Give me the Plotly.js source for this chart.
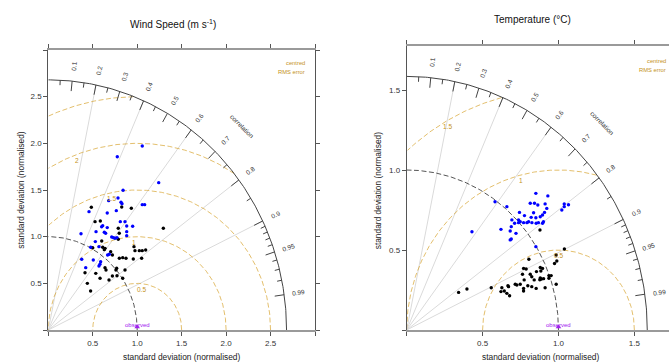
<!DOCTYPE html>
<html><head><meta charset="utf-8">
<script src="https://cdn.plot.ly/plotly-3.0.1.min.js"></script>
<style>html,body{margin:0;padding:0;overflow:hidden;background:#fff}#chart{width:690px;height:363px}</style>
</head><body><div id="chart"></div>
<script>
// ---- data (normalised sd components: x = sd*cor, y = sd*sqrt(1-cor^2)) ----
const windBlueX = [1.057,0.776,1.242,0.841,0.784,0.679,0.818,0.829,1.057,1.084,0.458,0.663,0.765,0.368,0.537,0.612,0.600,0.630,0.645,0.663,0.810,0.863,0.882,0.882,0.882,0.949,0.529,0.713,0.732,0.750,0.772,0.477,0.570,0.686,0.667,0.376,0.506,0.589,0.581,0.570,0.421];
const windBlueY = [1.972,1.857,1.579,1.497,1.415,1.386,1.368,1.354,1.343,1.343,1.268,1.254,1.279,1.032,1.054,1.118,1.107,1.047,1.036,1.097,1.161,1.161,1.115,1.054,1.011,1.111,0.947,0.997,0.990,0.983,0.990,0.886,0.893,0.811,0.804,0.758,0.750,0.732,0.704,0.686,0.668];
const windBlackX = [0.484,0.826,0.934,0.526,0.585,0.787,0.798,1.294,0.601,0.787,0.964,0.975,1.024,1.057,1.095,0.612,0.638,0.630,0.499,0.702,0.721,0.799,0.837,0.874,0.956,1.050,0.638,0.649,0.769,0.761,0.863,0.413,0.534,0.582,0.683,0.721,0.773,0.837,0.439,0.476];
const windBlackY = [1.315,1.318,1.304,1.161,1.168,1.090,1.036,1.090,0.954,0.972,0.893,0.850,0.850,0.850,0.857,0.886,0.875,0.861,0.882,0.839,0.804,0.768,0.775,0.768,0.761,0.768,0.668,0.643,0.661,0.643,0.643,0.614,0.607,0.554,0.536,0.579,0.582,0.554,0.500,0.418];
const tempBlueX = [0.851,0.930,0.814,0.842,0.864,0.912,0.582,0.660,1.038,1.038,1.066,1.022,0.923,0.743,0.836,0.908,0.895,0.776,0.820,0.851,0.880,0.693,0.737,0.748,0.737,0.770,0.792,0.803,0.825,0.853,0.868,0.901,0.895,0.711,0.430,0.621,0.689,0.682,0.720,0.689,0.682,0.851];
const tempBlueY = [0.854,0.838,0.792,0.792,0.781,0.788,0.802,0.771,0.788,0.771,0.783,0.750,0.760,0.735,0.733,0.735,0.719,0.715,0.704,0.702,0.708,0.688,0.688,0.677,0.671,0.671,0.671,0.677,0.671,0.667,0.671,0.677,0.667,0.667,0.614,0.629,0.646,0.619,0.604,0.569,0.563,0.521];
const tempBlackX = [0.878,1.039,0.805,0.989,0.974,0.985,0.770,0.787,0.880,0.895,0.884,0.855,0.763,0.814,0.824,0.880,0.888,0.877,0.902,0.937,0.952,0.937,0.774,0.840,0.715,0.726,0.748,0.798,0.824,0.853,0.912,0.985,0.770,0.770,0.627,0.667,0.671,0.643,0.660,0.678,0.621,0.557,0.397,0.342];
const tempBlackY = [0.625,0.506,0.442,0.431,0.416,0.469,0.385,0.381,0.391,0.385,0.369,0.365,0.348,0.348,0.333,0.325,0.319,0.314,0.321,0.340,0.340,0.323,0.313,0.313,0.286,0.281,0.286,0.277,0.271,0.260,0.264,0.286,0.260,0.244,0.264,0.277,0.271,0.244,0.229,0.214,0.240,0.264,0.256,0.235];
const rmsWind = [0.5, 1, 1.5, 2, 2.5];
const rmsTemp = [0.5, 1, 1.5];
const windTicks = [0, 0.5, 1.0, 1.5, 2.0, 2.5, 3.0];
const windTickText = [' ', '0.5', '1.0', '1.5', '2.0', '2.5', ' '];
const tempTicks = [0, 0.5, 1.0, 1.5];
const tempTickText = [' ', '0.5', '1.0', '1.5'];
const corrLines = [0.2, 0.4, 0.6, 0.8, 0.9];
const bigTicks = [0.1, 0.2, 0.3, 0.4, 0.5, 0.6, 0.7, 0.8, 0.9, 0.95, 0.99];
const medTicks = [0.05, 0.15, 0.25, 0.35, 0.45, 0.55, 0.65, 0.75, 0.85, 0.91, 0.92, 0.93, 0.94, 0.96, 0.97, 0.98];

// ---- layout ----
const W = 690, H = 363;
const FONT = 'Liberation Sans, Arial, Helvetica, sans-serif';
const px = v => v / W, py = v => 1 - v / H;
const GOLD = 'rgba(214,160,40,0.68)', GOLDTXT = '#C4921A';

const panels = [
  {title: 'Wind Speed (m s<sup>-1</sup>)', tpos: [172.5, 23.5], xa: 'x', ya: 'y', R: 2.68, rms: rmsWind,
   bx: windBlueX, by: windBlueY, kx: windBlackX, ky: windBlackY,
   yTitleX: 20.7, xTitleX: 181.7, legRight: 306.7, legY: [63.3, 72.3]},
  {title: 'Temperature (°C)', tpos: [532, 19.5], xa: 'x2', ya: 'y2', R: 1.585, rms: rmsTemp,
   bx: tempBlueX, by: tempBlueY, kx: tempBlackX, ky: tempBlackY,
   yTitleX: 378.3, xTitleX: 541.3, legRight: 668, legY: [60.7, 70]}
];

const traces = [], ann = [];
panels.forEach(p => {
  const R = p.R, base = {xaxis: p.xa, yaxis: p.ya, hoverinfo: 'skip', showlegend: false};
  // radial grid lines
  const gx = [], gy = [];
  corrLines.forEach(c => { gx.push(0, R * c, null); gy.push(0, R * Math.sqrt(1 - c * c), null); });
  traces.push(Object.assign({x: gx, y: gy, mode: 'lines', line: {color: '#dadada', width: 1}}, base));
  // centred RMS arcs
  p.rms.forEach(r => {
    const ax = [], ay = [];
    for (let t = 0; t <= 180; t += 0.5) {
      const a = t * Math.PI / 180, x = 1 + r * Math.cos(a), y = r * Math.sin(a);
      if (x >= 0 && x * x + y * y <= R * R) { ax.push(x); ay.push(y); } else if (ax.length && ax[ax.length - 1] !== null) { ax.push(null); ay.push(null); }
    }
    traces.push(Object.assign({x: ax, y: ay, mode: 'lines', line: {color: GOLD, width: 1, dash: '5px,2.5px'}}, base));
    const th = (74.5 + 48 * r / R) * Math.PI / 180, rr = r - 0.022 * R;
    const lx = 1 + rr * Math.cos(th), ly = rr * Math.sin(th);
    if (lx > 0) ann.push({xref: p.xa, yref: p.ya, x: lx, y: ly, text: String(r), showarrow: false,
      font: {family: FONT, size: 6.5, color: GOLDTXT}, xanchor: 'center', yanchor: 'middle'});
  });
  // observed sd arc (1) and outer arc (R)
  const ox = [], oy = [], sx = [], sy = [];
  for (let t = 0; t <= 90; t += 0.5) {
    const a = t * Math.PI / 180;
    ox.push(R * Math.cos(a)); oy.push(R * Math.sin(a));
    sx.push(Math.cos(a)); sy.push(Math.sin(a));
  }
  traces.push(Object.assign({x: sx, y: sy, mode: 'lines', line: {color: '#555', width: 1, dash: '5px,2.5px'}}, base));
  traces.push(Object.assign({x: ox, y: oy, mode: 'lines', line: {color: '#444', width: 1}}, base));
  // correlation ticks
  const tx = [], ty = [];
  const addTick = (c, f) => { const s = Math.sqrt(1 - c * c); tx.push(R * c, R * (1 - f) * c, null); ty.push(R * s, R * (1 - f) * s, null); };
  bigTicks.forEach(c => addTick(c, 0.04));
  medTicks.forEach(c => addTick(c, 0.02));
  traces.push(Object.assign({x: tx, y: ty, mode: 'lines', line: {color: '#444', width: 1}}, base));
  bigTicks.forEach(c => {
    const a = Math.acos(c);
    ann.push({xref: p.xa, yref: p.ya, x: 1.06 * R * Math.cos(a), y: 1.06 * R * Math.sin(a), text: String(c),
      showarrow: false, textangle: -a * 180 / Math.PI, font: {family: FONT, size: 6.5, color: '#333'}, xanchor: 'center', yanchor: 'middle'});
  });
  ann.push({xref: p.xa, yref: p.ya, x: 0.815 * R, y: 0.815 * R, text: 'correlation', showarrow: false, textangle: 45,
    font: {family: FONT, size: 6.5, color: '#333'}, xanchor: 'center', yanchor: 'middle'});
  // points
  traces.push(Object.assign({x: p.kx, y: p.ky, mode: 'markers', marker: {color: '#000', size: 3.4}}, base));
  traces.push(Object.assign({x: p.bx, y: p.by, mode: 'markers', marker: {color: '#0000ff', size: 3.4}}, base));
  // observed
  traces.push(Object.assign({x: [1], y: [0.012 * R], mode: 'markers', marker: {color: '#A020F0', size: 5, symbol: 'triangle-up'}, cliponaxis: false}, base));
  ann.push({xref: p.xa, yref: p.ya, x: 1, y: 0, yshift: 5, text: 'observed', showarrow: false,
    font: {family: FONT, size: 6, color: '#A020F0'}, xanchor: 'center', yanchor: 'middle'});
  // texts
  ann.push({xref: 'paper', yref: 'paper', x: px(p.tpos[0]), y: py(p.tpos[1]), text: p.title, showarrow: false,
    font: {family: FONT, size: 10, color: '#111'}, xanchor: 'center', yanchor: 'middle'});
  ann.push({xref: 'paper', yref: 'paper', x: px(p.yTitleX), y: py(190), text: 'standard deviation (normalised)', showarrow: false, textangle: -90,
    font: {family: FONT, size: 8.4, color: '#222'}, xanchor: 'center', yanchor: 'middle'});
  ann.push({xref: 'paper', yref: 'paper', x: px(p.xTitleX), y: py(357), text: 'standard deviation (normalised)', showarrow: false,
    font: {family: FONT, size: 8.4, color: '#222'}, xanchor: 'center', yanchor: 'middle'});
  ann.push({xref: 'paper', yref: 'paper', x: px(p.legRight), y: py(p.legY[0]), text: 'centred', showarrow: false,
    font: {family: FONT, size: 5.8, color: GOLDTXT}, xanchor: 'right', yanchor: 'middle'});
  ann.push({xref: 'paper', yref: 'paper', x: px(p.legRight), y: py(p.legY[1]), text: 'RMS error', showarrow: false,
    font: {family: FONT, size: 5.8, color: GOLDTXT}, xanchor: 'right', yanchor: 'middle'});
});

const axBase = {showgrid: false, zeroline: false, ticks: 'outside', ticklen: 4, tickwidth: 1, tickcolor: '#555',
  showline: true, mirror: 'ticks', tickfont: {family: FONT, size: 8, color: '#333'}, fixedrange: true};
const layout = {
  width: W, height: H, margin: {l: 0, r: 0, t: 0, b: 0}, paper_bgcolor: '#fff', plot_bgcolor: '#fff', showlegend: false,
  xaxis: Object.assign({}, axBase, {domain: [px(48.3), px(315)], range: [0, 3.0], tickvals: windTicks, ticktext: windTickText, linecolor: '#9a9a9a', linewidth: 2, anchor: 'y'}),
  yaxis: Object.assign({}, axBase, {domain: [py(330), py(50)], range: [0, 3.0], tickvals: windTicks, ticktext: windTickText, linecolor: '#555', linewidth: 1, anchor: 'x'}),
  xaxis2: Object.assign({}, axBase, {domain: [px(406.7), px(676.1)], range: [0, 1.775], tickvals: tempTicks, ticktext: tempTickText, linecolor: '#9a9a9a', linewidth: 2, anchor: 'y2'}),
  yaxis2: Object.assign({}, axBase, {domain: [py(330), py(46)], range: [0, 1.775], tickvals: tempTicks, ticktext: tempTickText, linecolor: '#555', linewidth: 1, anchor: 'x2'}),
  annotations: ann
};
Plotly.newPlot('chart', traces, layout, {staticPlot: true, displayModeBar: false});
</script></body></html>
